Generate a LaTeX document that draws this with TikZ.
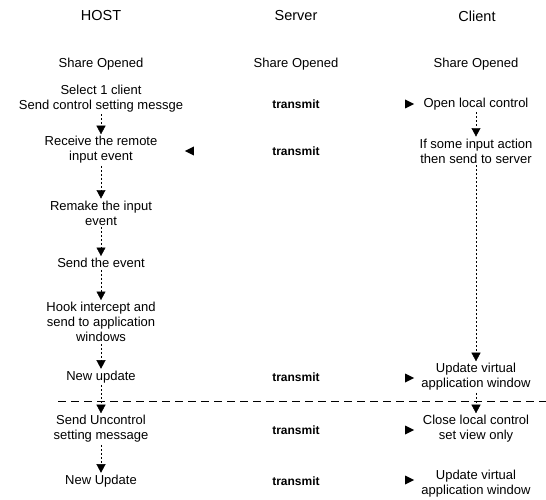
\documentclass[tikz,border=0pt]{standalone}
\usepackage{fontspec}
\setmainfont{Liberation Sans}
\usetikzlibrary{arrows.meta,shapes.geometric}

\begin{document}
\begin{tikzpicture}[x=1pt,y=-1pt,
    txt/.style={align=center, font=\fontsize{13}{15}\selectfont, inner sep=2pt},
    hd/.style={font=\fontsize{14.5}{16}\selectfont},
    xmit/.style={font=\fontsize{12}{14}\selectfont\bfseries},
    flow/.style={-{Triangle[length=8.5pt,width=9pt]}, dash pattern=on 2pt off 2pt, line width=0.45pt},
    tri/.style={isosceles triangle, isosceles triangle stretches, fill, inner sep=0pt, minimum width=9pt, minimum height=9pt}]
\useasboundingbox (0,0) rectangle (546,500);

% Column heads
\node[hd] (th) at (101,16) {HOST};
\node[hd] (ts) at (296,16) {Server};
\node[hd] (tc) at (477,16) {Client};

% Share opened
\foreach \n/\x in {h0/101, s0/296, c0/476} {
    \node[txt] (\n) at (\x,64) {Share Opened};
}

% HOST column
\node[txt] (h1) at (101,98.5) {Select 1 client\\Send control setting messge};
\node[txt] (h2) at (101,150) {Receive the remote\\input event};
\node[txt] (h3) at (101,213) {Remake the input\\event};
\node[txt] (h4) at (101,263) {Send the event};
\node[txt] (h5) at (101,322) {Hook intercept and\\send to application\\windows};
\node[txt] (h6) at (101,377) {New update};
\node[txt] (h7) at (101,429) {Send Uncontrol\\setting message};
\node[txt] (h8) at (101,481) {New Update};

% Server column
\foreach \n/\y in {s1/104, s2/151, s3/377, s4/430, s5/481} {
    \node[xmit] (\n) at (296,\y) {transmit};
}

% Client column
\node[txt] (c1) at (476,104) {Open local control};
\node[txt] (c2) at (476,151) {If some input action\\then send to server};
\node[txt] (c3) at (476,377) {Update virtual\\application window};
\node[txt] (c4) at (476,429) {Close local control\\set view only};
\node[txt] (c5) at (476,484) {Update virtual\\application window};

% Triangles
\node[tri, shape border rotate=180] (l2) at (191,151) {};
\foreach \n/\y in {r1/104, r3/378, r4/430, r5/480} {
    \node[tri] (\n) at (408,\y) {};
}

% Flow arrows
\foreach \a/\b in {h1/h2, h2/h3, h3/h4, h4/h5, h5/h6, h6/h7, h7/h8, c1/c2, c2/c3, c3/c4} {
    \draw[flow] (\a) -- (\b);
}

% Separator
\coordinate (sepL) at (58,401);
\coordinate (sepR) at (546,401);
\draw[dash pattern=on 8pt off 5pt, line width=0.9pt] (sepL) -- (sepR);
\end{tikzpicture}
\end{document}
